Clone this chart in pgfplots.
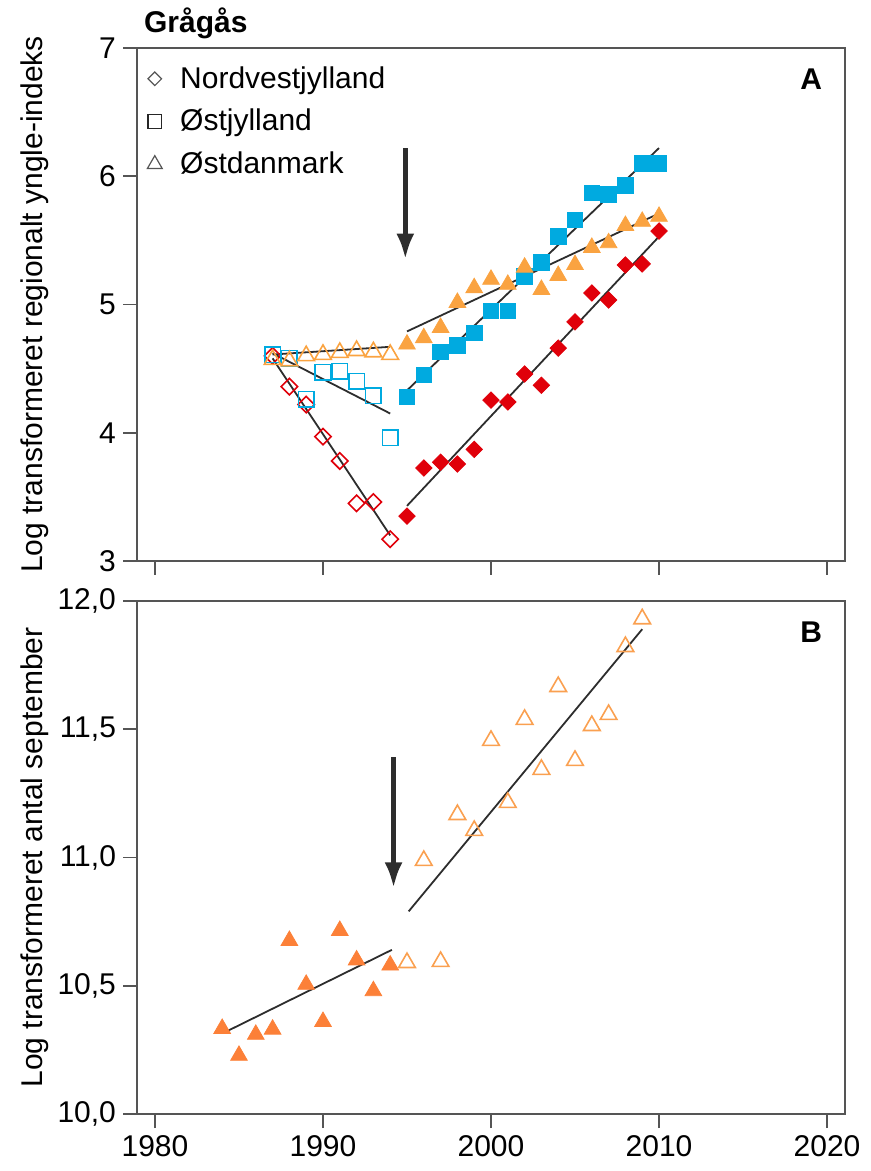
\documentclass[border=0pt]{standalone}
\usepackage{fontspec}
\setmainfont{Liberation Sans}
\usepackage{pgfplots}
\pgfplotsset{compat=1.18}
\usetikzlibrary{arrows.meta}
\definecolor{cred}{RGB}{224,0,10}
\definecolor{cblue}{RGB}{0,170,224}
\definecolor{corange}{RGB}{250,163,65}
\definecolor{cdorange}{RGB}{252,128,56}
\definecolor{clorange}{RGB}{250,160,80}
\definecolor{axgray}{RGB}{85,85,85}
\definecolor{fitgray}{RGB}{45,45,45}

\pgfplotsset{
  panel/.style={
    scale only axis, width=354pt, height=256.5pt,
    xmin=1978.93, xmax=2021.07,
    xtick={1980,1990,...,2020},
    tick pos=left, tick align=outside, major tick length=7pt,
    axis line style={draw=axgray, line width=0.8pt},
    tick style={draw=axgray, line width=0.8pt},
    ticklabel style={font=\fontsize{15}{18}\selectfont},
    /pgf/number format/assume math mode=true,
    /pgf/number format/1000 sep={},
    label style={font=\fontsize{15}{18}\selectfont},
    ylabel style={at={(axis description cs:-0.144,0.5)}, anchor=center},
  },
  fit/.style={fitgray, line width=0.9pt, no markers},
}

\begin{document}
\begin{tikzpicture}
\begin{axis}[panel, name=top, at={(0,0)}, anchor=south west,
  ymin=3, ymax=7, ytick={3,4,5,6,7},
  xticklabels={,,,,,},
  ylabel={Log transformeret regionalt yngle-indeks},
  legend style={at={(axis description cs:0,1)}, anchor=north west,
    draw=none, fill=none, xshift=1pt, yshift=-5pt,
    font=\fontsize{15}{18}\selectfont, row sep=5pt},
  legend cell align=left,
  legend image code/.code={\path (-4.5pt,0pt) (10.5pt,0pt); \draw[#1] plot coordinates {(0pt,0pt)};},
]
\addlegendimage{only marks, mark=square, mark size=2.4pt, mark options={rotate=45, draw=axgray, line width=0.6pt}}
\addlegendimage{only marks, mark=square, mark size=3.4pt, mark options={draw=black!85, line width=0.6pt}}
\addlegendimage{only marks, mark=triangle, mark size=4.3pt, mark options={draw=axgray, line width=0.6pt}}
\legend{Nordvestjylland, Østjylland, Østdanmark}

% Nordvestjylland
\addplot[only marks, mark=square, mark size=2.9pt, mark options={rotate=45, draw=cred, line width=0.8pt}, forget plot] coordinates {
(1987,4.60) (1988,4.36) (1989,4.22) (1990,3.97) (1991,3.78) (1992,3.45) (1993,3.46) (1994,3.17)};
\addplot[only marks, mark=square*, mark size=2.9pt, mark options={rotate=45, draw=cred, fill=cred}, forget plot] coordinates {
(1995,3.35) (1996,3.725) (1997,3.77) (1998,3.756) (1999,3.87) (2000,4.255) (2001,4.24) (2002,4.458)
(2003,4.37) (2004,4.66) (2005,4.864) (2006,5.09) (2007,5.035) (2008,5.308) (2009,5.316) (2010,5.573)};
% Østjylland
\addplot[only marks, mark=square, mark size=3.9pt, mark options={draw=cblue, line width=0.8pt}, forget plot] coordinates {
(1987,4.61) (1988,4.58) (1989,4.26) (1990,4.47) (1991,4.48) (1992,4.40) (1993,4.29) (1994,3.96)};
\addplot[only marks, mark=square*, mark size=3.9pt, mark options={draw=cblue, fill=cblue}, forget plot] coordinates {
(1995,4.28) (1996,4.45) (1997,4.63) (1998,4.68) (1999,4.78) (2000,4.95) (2001,4.95) (2002,5.22)
(2003,5.33) (2004,5.53) (2005,5.66) (2006,5.87) (2007,5.86) (2008,5.93) (2009,6.10) (2010,6.10)};
% Østdanmark
\addplot[only marks, mark=triangle, mark size=4.8pt, mark options={draw=corange, line width=0.8pt}, forget plot] coordinates {
(1987,4.57) (1988,4.56) (1989,4.60) (1990,4.61) (1991,4.625) (1992,4.64) (1993,4.63) (1994,4.61)};
\addplot[only marks, mark=triangle*, mark size=4.8pt, mark options={draw=corange, fill=corange}, forget plot] coordinates {
(1995,4.69) (1996,4.74) (1997,4.82) (1998,5.015) (1999,5.13) (2000,5.195) (2001,5.156) (2002,5.29)
(2003,5.116) (2004,5.225) (2005,5.31) (2006,5.444) (2007,5.48) (2008,5.615) (2009,5.647) (2010,5.686)};
% trend lines
\addplot[fit, forget plot] coordinates {(1987,4.58) (1994,3.20)};
\addplot[fit, forget plot] coordinates {(1995,3.43) (2010,5.53)};
\addplot[fit, forget plot] coordinates {(1987,4.62) (1994,4.15)};
\addplot[fit, forget plot] coordinates {(1995,4.33) (2010,6.22)};
\addplot[fit, forget plot] coordinates {(1987,4.61) (1994,4.67)};
\addplot[fit, forget plot] coordinates {(1995,4.79) (2010,5.71)};

\draw[fitgray, line width=2.6pt, -{Latex[length=13pt, width=9pt]}] (axis cs:1994.9,6.22) -- (axis cs:1994.9,5.35);
\node[anchor=north east, font=\fontsize{15}{18}\selectfont\bfseries] at ([xshift=-8pt, yshift=-7pt]rel axis cs:1,1) {A};
\end{axis}
\node[anchor=base west, font=\fontsize{15}{18}\selectfont\bfseries] at ([yshift=7.5pt]top.north west) {Grågås};

\begin{axis}[panel, at={(top.south west)}, anchor=north west, yshift=-20pt,
  ymin=10, ymax=12, ytick={10,10.5,...,12},
  yticklabel style={/pgf/number format/.cd, fixed, fixed zerofill, precision=1, use comma},
  ylabel={Log transformeret antal september},
]
\addplot[only marks, mark=triangle*, mark size=4.8pt, mark options={draw=cdorange, fill=cdorange}] coordinates {
(1984,10.333) (1985,10.228) (1986,10.31) (1987,10.33) (1988,10.676) (1989,10.505) (1990,10.36)
(1991,10.715) (1992,10.60) (1993,10.48) (1994,10.58)};
\addplot[only marks, mark=triangle, mark size=4.8pt, mark options={draw=clorange, line width=0.8pt}] coordinates {
(1995,10.59) (1996,10.988) (1997,10.594) (1998,11.167) (1999,11.105) (2000,11.456) (2001,11.214)
(2002,11.538) (2003,11.343) (2004,11.666) (2005,11.378) (2006,11.514) (2007,11.557) (2008,11.822) (2009,11.93)};
\addplot[fit] coordinates {(1984.2,10.32) (1994.1,10.64)};
\addplot[fit] coordinates {(1995.1,10.79) (2009,11.89)};
\draw[fitgray, line width=2.6pt, -{Latex[length=13pt, width=9pt]}] (axis cs:1994.2,11.39) -- (axis cs:1994.2,10.88);
\node[anchor=north east, font=\fontsize{15}{18}\selectfont\bfseries] at ([xshift=-8pt, yshift=-7pt]rel axis cs:1,1) {B};
\end{axis}
\pgfresetboundingbox
\path (-68.5pt,-305pt) rectangle (367pt,280.5pt);
\end{tikzpicture}
\end{document}
